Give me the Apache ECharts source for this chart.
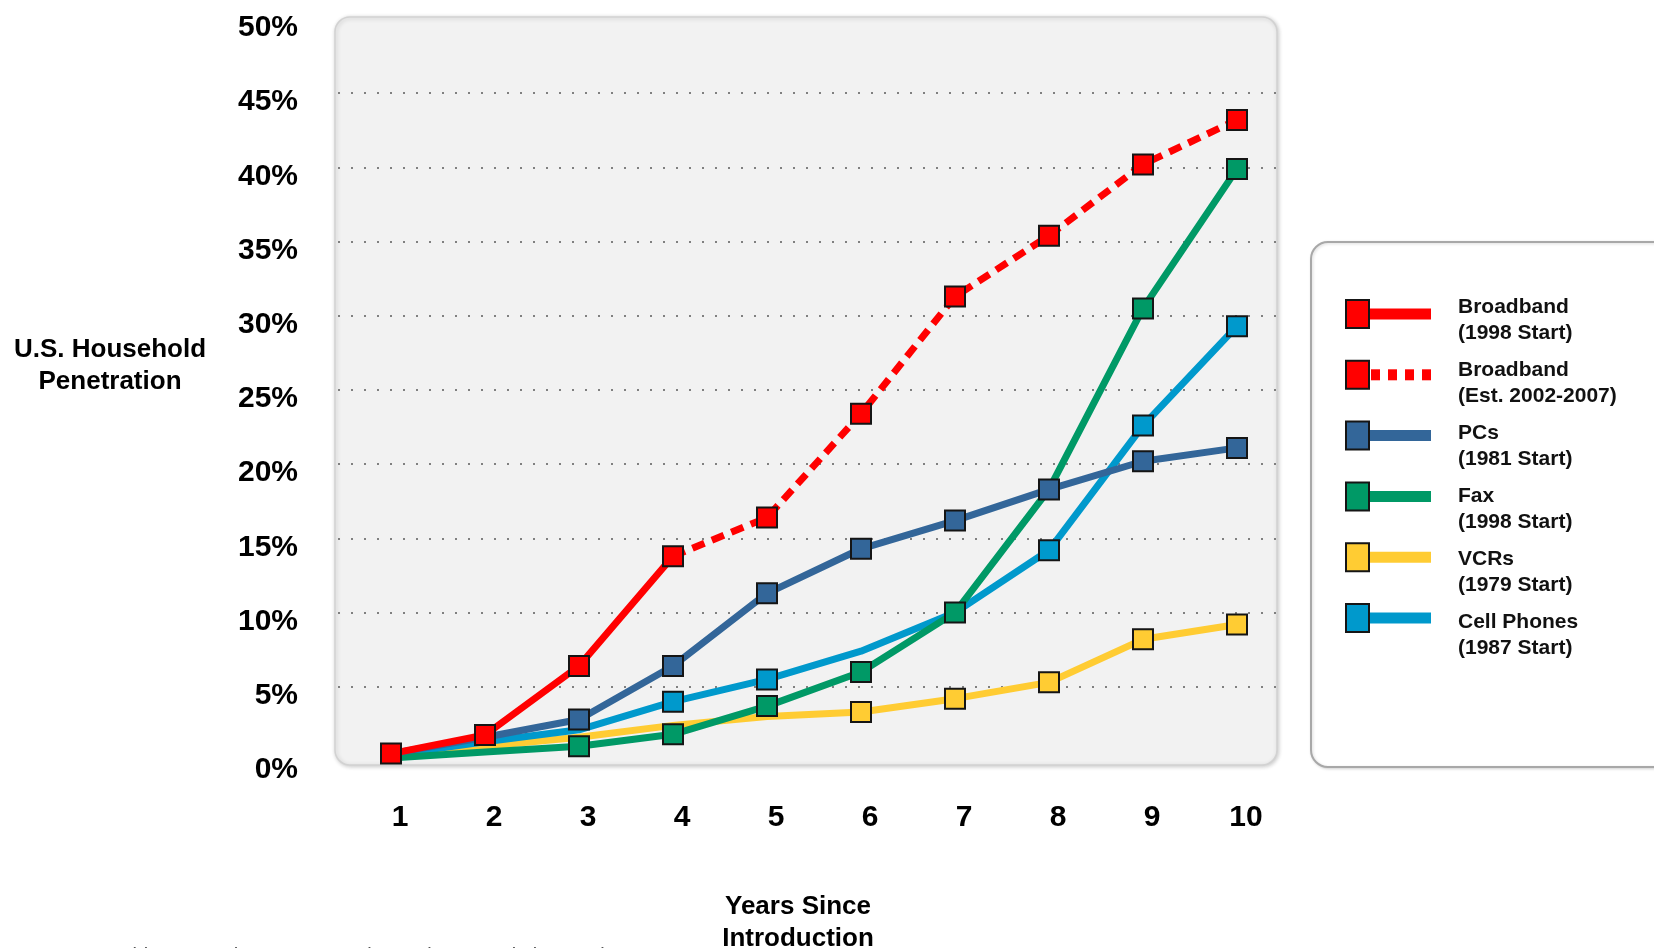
<!DOCTYPE html>
<html>
<head>
<meta charset="utf-8">
<title>U.S. Household Penetration by Years Since Introduction</title>
<script src="https://cdn.jsdelivr.net/npm/echarts@6/dist/echarts.min.js"></script>
<style>
  html, body { margin: 0; padding: 0; background: #ffffff; }
  #chart { width: 1654px; height: 948px; }
</style>
</head>
<body>
<div id="chart"></div>
<script>
// ---- data (percent of U.S. households) ----
const years = ['1', '2', '3', '4', '5', '6', '7', '8', '9', '10'];
const broadband    = [0.5, 1.75, 6.4, 13.8, null, null, null, null, null, null];
const broadbandEst = [null, null, null, 13.8, 16.4, 23.4, 31.3, 35.4, 40.2, 43.2];
const pcs          = [0.5, 1.6, 2.8, 6.4, 11.3, 14.3, 16.2, 18.3, 20.2, 21.1];
const fax          = [0.2, 0.6, 1.0, 1.8, 3.7, 6.0, 10.0, 18.3, 30.5, 39.9];
const vcrs         = [0.3, 1.0, 1.6, 2.4, 3.0, 3.3, 4.2, 5.3, 8.2, 9.2];
const cellPhones   = [0.4, 1.3, 2.1, 4.0, 5.5, 7.4, 10.0, 14.2, 22.6, 29.3];
const yTickValues  = [0, 5, 10, 15, 20, 25, 30, 35, 40, 45, 50];

const FONT = '"Liberation Sans", Arial, Helvetica, sans-serif';

// series definitions (drawn bottom to top)
const seriesDefs = [
  { name: 'VCRs',       sub: '(1979 Start)',      color: '#FFCC33', values: vcrs,         markers: [6, 7, 8, 9, 10] },
  { name: 'Cell Phones',sub: '(1987 Start)',      color: '#0099CC', values: cellPhones,   markers: [4, 5, 8, 9, 10] },
  { name: 'Fax',        sub: '(1998 Start)',      color: '#009966', values: fax,          markers: [3, 4, 5, 6, 7, 9, 10] },
  { name: 'PCs',        sub: '(1981 Start)',      color: '#336699', values: pcs,          markers: [3, 4, 5, 6, 7, 8, 9, 10] },
  { name: 'Broadband',  sub: '(Est. 2002-2007)',  color: '#FF0000', values: broadbandEst, markers: [5, 6, 7, 8, 9, 10], dashed: true },
  { name: 'Broadband',  sub: '(1998 Start)',      color: '#FF0000', values: broadband,    markers: [1, 2, 3, 4] }
];

// order of entries in the key box
const legendOrder = [5, 4, 3, 2, 0, 1];

const series = seriesDefs.map(function (d) {
  return {
    name: d.name + ' ' + d.sub,
    type: 'line',
    xAxisIndex: 0,
    yAxisIndex: 0,
    data: d.values.map(function (v, i) {
      if (v === null) return '-';
      return { value: v, symbol: d.markers.indexOf(i + 1) >= 0 ? 'rect' : 'none' };
    }),
    symbolSize: 20,
    showAllSymbol: true,
    lineStyle: {
      color: d.color,
      width: 7,
      type: d.dashed ? [13, 8] : 'solid',
      cap: d.dashed ? 'butt' : 'round',
      join: 'round'
    },
    itemStyle: { color: d.color, borderColor: '#151515', borderWidth: 2 },
    emphasis: { disabled: true },
    connectNulls: false,
    animation: false
  };
});

// ---- key box ----
const legendChildren = [];
legendChildren.push({
  type: 'rect',
  shape: { x: 1311, y: 242, width: 420, height: 525, r: 17 },
  style: { fill: '#ffffff', stroke: '#a8a8a8', lineWidth: 2, shadowBlur: 3, shadowColor: 'rgba(0,0,0,0.15)', shadowOffsetX: 1, shadowOffsetY: 1 }
});
legendOrder.forEach(function (idx, k) {
  const d = seriesDefs[idx];
  const cy = 314 + 60.8 * k;
  const ty = 307.5 + 63 * k - 13;
  if (d.dashed) {
    for (let j = 0; j < 4; j++) {
      legendChildren.push({ type: 'rect', shape: { x: 1371 + 17 * j, y: cy - 5.5, width: 9, height: 11 }, style: { fill: d.color } });
    }
  } else {
    legendChildren.push({ type: 'rect', shape: { x: 1370, y: cy - 5.5, width: 61, height: 11 }, style: { fill: d.color } });
  }
  legendChildren.push({
    type: 'rect',
    shape: { x: 1346, y: cy - 14, width: 23, height: 28 },
    style: { fill: d.color, stroke: '#151515', lineWidth: 2 }
  });
  legendChildren.push({
    type: 'text',
    x: 1458, y: ty,
    style: { text: d.name + '\n' + d.sub, font: 'bold 21px ' + FONT, fill: '#111111', lineHeight: 26, verticalAlign: 'top', align: 'left' }
  });
});

const chart = echarts.init(document.getElementById('chart'), null, { renderer: 'canvas' });

chart.setOption({
  backgroundColor: '#ffffff',
  animation: false,
  textStyle: { fontFamily: FONT },
  grid: [
    { left: 344, right: 370, top: 19, bottom: 187, containLabel: false, outerBoundsMode: 'none' },
    { left: 338, right: 378, top: 19, bottom: 187, containLabel: false, outerBoundsMode: 'none' }
  ],
  xAxis: [
    {
      type: 'category',
      gridIndex: 0,
      data: years,
      boundaryGap: true,
      axisLine: { show: false },
      axisTick: { show: false },
      splitLine: { show: false },
      axisLabel: {
        margin: 42,
        fontSize: 30,
        fontWeight: 'bold',
        color: '#000000',
        fontFamily: FONT,
        padding: [0, 0, 0, 18]
      },
      name: 'Years Since\nIntroduction',
      nameLocation: 'middle',
      nameGap: 162,
      nameTextStyle: {
        fontSize: 26, fontWeight: 'bold', color: '#000000', fontFamily: FONT,
        lineHeight: 32, align: 'center', verticalAlign: 'middle', padding: [0, 32, 0, 0]
      }
    },
    {
      type: 'value',
      gridIndex: 1,
      min: 0, max: 1,
      show: false
    }
  ],
  yAxis: [
    {
      type: 'value',
      gridIndex: 0,
      min: 0, max: 50, interval: 5,
      axisLine: { show: false },
      axisTick: { show: false },
      splitLine: { show: false },
      axisLabel: {
        margin: 46,
        fontSize: 30,
        fontWeight: 'bold',
        color: '#000000',
        fontFamily: FONT,
        verticalAlign: 'top',
        lineHeight: 18,
        formatter: function (v) { return yTickValues.indexOf(v) >= 0 ? v + '%' : ''; }
      }
    },
    {
      // dotted guide lines across the panel
      type: 'value',
      gridIndex: 1,
      min: 0, max: 50, interval: 5,
      axisLine: { show: false },
      axisTick: { show: false },
      axisLabel: { show: false },
      splitLine: {
        show: true,
        lineStyle: {
          color: ['rgba(0,0,0,0)', '#808080', '#808080', '#808080', '#808080', '#808080', '#808080', '#808080', '#808080', '#808080', 'rgba(0,0,0,0)'],
          width: 2,
          type: [2, 11]
        }
      }
    }
  ],
  graphic: [
    {
      type: 'rect',
      z: -10,
      silent: true,
      shape: { x: 335, y: 17, width: 942, height: 748, r: 15 },
      style: { fill: '#f2f2f2', stroke: '#d2d2d2', lineWidth: 1.5, shadowBlur: 4, shadowColor: 'rgba(0,0,0,0.2)', shadowOffsetX: 1, shadowOffsetY: 1 }
    },
    { type: 'group', z: 10, silent: true, children: legendChildren },
    {
      // vertical axis title
      type: 'text',
      x: 110, y: 334,
      silent: true,
      style: { text: 'U.S. Household\nPenetration', font: 'bold 26px ' + FONT, fill: '#000000', lineHeight: 32, align: 'center', verticalAlign: 'top' }
    },
    {
      type: 'text',
      x: 17, y: 946,
      silent: true,
      style: { text: 'Sources: Probit Research, Consumer Electronics Association, Various', font: '20px ' + FONT, fill: '#555555', verticalAlign: 'top' }
    }
  ],
  series: series
});
</script>
</body>
</html>
